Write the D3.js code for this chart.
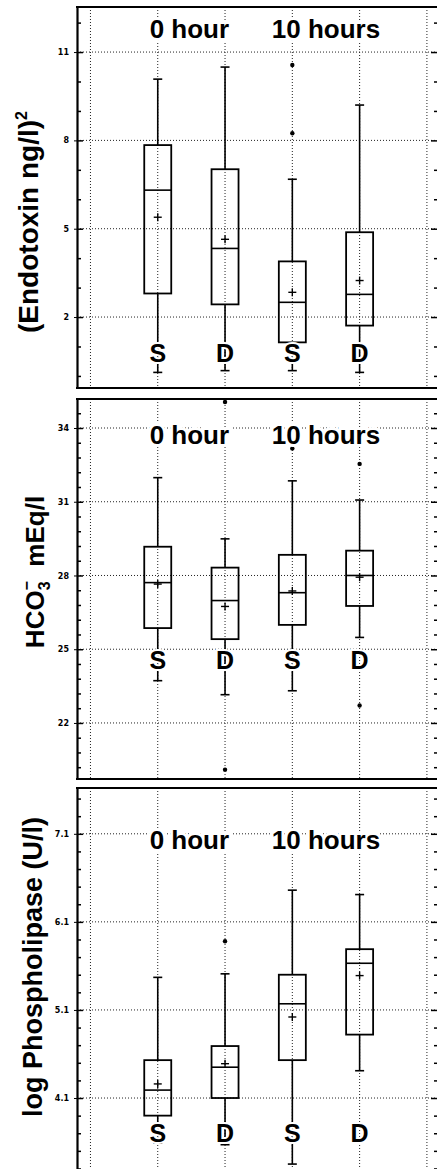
<!DOCTYPE html>
<html>
<head>
<meta charset="utf-8">
<script src="https://cdn.jsdelivr.net/npm/d3@7"></script>
<style>
  body { margin: 0; background: #fff; }
  svg { display: block; font-family: "Liberation Sans", Arial, sans-serif; }
</style>
</head>
<body>
<div class="chart"></div>
<script>
var groups = ["S", "D", "S", "D"];
var times = ["0 hour", "10 hours"];

// box stats per group: [low whisker, q1, median, q3, high whisker]
var endoStats = [
  [0.12, 2.80, 6.31, 7.84, 10.08],
  [0.18, 2.43, 4.33, 7.02, 10.49],
  [0.18, 1.14, 2.50, 3.89, 6.68],
  [0.12, 1.71, 2.77, 4.88, 9.20]
];
var endoMeans = [5.39, 4.64, 2.84, 3.24];
var endoOutliers = [[], [], [8.24, 10.56], []];
var endoTicks = [2, 5, 8, 11];

var hcoStats = [
  [23.72, 25.86, 27.71, 29.17, 31.98],
  [23.15, 25.41, 26.98, 28.32, 29.49],
  [23.31, 25.99, 27.30, 28.84, 31.85],
  [25.48, 26.76, 28.00, 29.01, 31.07]
];
var hcoMeans = [27.65, 26.74, 27.37, 27.93];
var hcoOutliers = [[], [35.06, 20.1], [33.17], [32.54, 22.71]];
var hcoTicks = [22, 25, 28, 31, 34];

var phosStats = [
  [3.59, 3.90, 4.19, 4.53, 5.47],
  [3.57, 4.10, 4.45, 4.69, 5.51],
  [3.35, 4.53, 5.17, 5.50, 6.46],
  [4.41, 4.82, 5.63, 5.79, 6.41]
];
var phosMeans = [4.26, 4.49, 5.02, 5.49];
var phosOutliers = [[], [5.88], [], []];
var phosTicks = [4.1, 5.1, 6.1, 7.1];

var svgWidth = 438;
var svgHeight = 1169;
var axisX = 77, rightX = 437;
var boxW = 27, capW = 9;

// layout of the three stacked panels
var panels = [
  { stats: endoStats, means: endoMeans, outliers: endoOutliers, ticks: endoTicks, minor: 1,
    top: 7, bottom: 388, domain: [-0.41, 12.53], timeY: 38, groupY: 362,
    title: "endo", titleX: 38, titleY: 222, titleSize: 28 },
  { stats: hcoStats, means: hcoMeans, outliers: hcoOutliers, ticks: hcoTicks, minor: 0.6,
    top: 399, bottom: 779, domain: [19.72, 35.18], timeY: 444, groupY: 669,
    title: "hco", titleX: 44, titleY: 572, titleSize: 26 },
  { stats: phosStats, means: phosMeans, outliers: phosOutliers, ticks: phosTicks, minor: 0.2,
    top: 788, bottom: 1172, domain: [3.26, 7.62], timeY: 849, groupY: 1142,
    title: "phos", titleX: 42, titleY: 967, titleSize: 27 }
];

var svg = d3.select(".chart")
  .append("svg")
  .attr("width", svgWidth)
  .attr("height", svgHeight);

var x = d3.scaleLinear().domain([-0.2, 5.15]).range([axisX, rightX]);

panels.forEach(function(p) {
  var y = d3.scaleLinear().domain(p.domain).range([p.bottom, p.top]);
  var g = svg.append("g");

  var t0 = p.ticks[0];
  var minorTicks = d3.range(Math.ceil((p.domain[0] - t0) / p.minor), Math.floor((p.domain[1] - t0) / p.minor) + 1)
    .map(k => +(t0 + k * p.minor).toFixed(2))
    .filter(v => p.ticks.indexOf(v) < 0);

  // dotted grid
  g.selectAll(".hgrid").data(p.ticks).enter().append("line")
    .attr("x1", axisX).attr("x2", rightX)
    .attr("y1", d => y(d)).attr("y2", d => y(d))
    .attr("stroke", "#222").attr("stroke-width", 1).attr("stroke-dasharray", "1,2");
  g.selectAll(".vgrid").data(d3.range(0, 6)).enter().append("line")
    .attr("x1", d => x(d)).attr("x2", d => x(d))
    .attr("y1", p.top).attr("y2", p.bottom)
    .attr("stroke", "#222").attr("stroke-width", 1).attr("stroke-dasharray", "1,2");

  // left axis with labels
  var leftAxis = d3.axisLeft(y).tickValues(p.ticks).tickSize(3).tickSizeOuter(0).tickPadding(5)
    .tickFormat(d => String(d));
  var la = g.append("g").attr("transform", `translate(${axisX},0)`).call(leftAxis);
  la.select(".domain").attr("stroke-width", 2.2);
  la.selectAll("text").attr("font-size", 8).attr("font-weight", "bold")
    .attr("font-family", "'DejaVu Sans', sans-serif");

  g.append("g").attr("transform", `translate(${axisX},0)`)
    .call(d3.axisRight(y).tickValues(p.ticks).tickSize(6).tickFormat(""))
    .call(s => s.select(".domain").remove())
    .selectAll("line").attr("stroke-width", 1.5);
  g.append("g").attr("transform", `translate(${axisX},0)`)
    .call(d3.axisRight(y).tickValues(minorTicks).tickSize(4).tickFormat(""))
    .call(s => s.select(".domain").remove())
    .selectAll("line").attr("stroke-width", 1.5);

  // right side ticks
  g.append("g").attr("transform", `translate(${rightX},0)`)
    .call(d3.axisLeft(y).tickValues(p.ticks).tickSize(6).tickFormat(""))
    .call(s => s.select(".domain").remove())
    .selectAll("line").attr("stroke-width", 1.5);
  g.append("g").attr("transform", `translate(${rightX},0)`)
    .call(d3.axisLeft(y).tickValues(minorTicks).tickSize(3).tickFormat(""))
    .call(s => s.select(".domain").remove())
    .selectAll("line").attr("stroke-width", 1.5);

  // top / bottom frame
  [p.top, p.bottom].forEach(function(yy) {
    g.append("line").attr("x1", axisX - 1).attr("x2", rightX)
      .attr("y1", yy).attr("y2", yy)
      .attr("stroke", "#000").attr("stroke-width", 2.2);
  });

  // boxes
  var bx = g.selectAll(".box").data(p.stats).enter().append("g");
  bx.append("line")
    .attr("x1", (d, i) => x(i + 1)).attr("x2", (d, i) => x(i + 1))
    .attr("y1", d => y(d[0])).attr("y2", d => y(d[1]))
    .attr("stroke", "#000").attr("stroke-width", 1.6);
  bx.append("line")
    .attr("x1", (d, i) => x(i + 1)).attr("x2", (d, i) => x(i + 1))
    .attr("y1", d => y(d[3])).attr("y2", d => y(d[4]))
    .attr("stroke", "#000").attr("stroke-width", 1.6);
  [0, 4].forEach(function(k) {
    bx.append("line")
      .attr("x1", (d, i) => x(i + 1) - capW / 2).attr("x2", (d, i) => x(i + 1) + capW / 2)
      .attr("y1", d => y(d[k])).attr("y2", d => y(d[k]))
      .attr("stroke", "#000").attr("stroke-width", 1.6);
  });
  bx.append("rect")
    .attr("x", (d, i) => x(i + 1) - boxW / 2).attr("width", boxW)
    .attr("y", d => y(d[3])).attr("height", d => y(d[1]) - y(d[3]))
    .attr("fill", "none").attr("stroke", "#000").attr("stroke-width", 1.8);
  bx.append("line")
    .attr("x1", (d, i) => x(i + 1) - boxW / 2).attr("x2", (d, i) => x(i + 1) + boxW / 2)
    .attr("y1", d => y(d[2])).attr("y2", d => y(d[2]))
    .attr("stroke", "#000").attr("stroke-width", 1.6);

  // means as +
  var mg = g.selectAll(".mean").data(p.means).enter().append("g")
    .attr("transform", (d, i) => `translate(${x(i + 1)},${y(d)})`);
  mg.append("line").attr("x1", -4).attr("x2", 4).attr("stroke", "#000").attr("stroke-width", 1.4);
  mg.append("line").attr("y1", -4).attr("y2", 4).attr("stroke", "#000").attr("stroke-width", 1.4);

  // outliers
  p.outliers.forEach(function(list, i) {
    g.selectAll(null).data(list).enter().append("circle")
      .attr("cx", x(i + 1)).attr("cy", d => y(d)).attr("r", 2.2).attr("fill", "#000");
  });

  // S / D labels
  g.selectAll(".grp").data(groups).enter().append("text")
    .attr("x", (d, i) => x(i + 1)).attr("y", p.groupY)
    .attr("text-anchor", "middle").attr("font-size", 25).attr("font-weight", "bold")
    .attr("stroke", "#fff").attr("stroke-width", 4).attr("paint-order", "stroke")
    .text(d => d);

  // time labels
  g.selectAll(".time").data(times).enter().append("text")
    .attr("x", (d, i) => x(1.47 + 2.03 * i)).attr("y", p.timeY)
    .attr("text-anchor", "middle").attr("font-size", 26).attr("font-weight", "bold")
    .attr("stroke", "#fff").attr("stroke-width", 6).attr("paint-order", "stroke")
    .text(d => d);

  // y title
  var tt = svg.append("text")
    .attr("transform", `translate(${p.titleX},${p.titleY}) rotate(-90)`)
    .attr("text-anchor", "middle").attr("font-size", p.titleSize).attr("font-weight", "bold");
  if (p.title === "endo") {
    tt.append("tspan").text("(Endotoxin ng/l)");
    tt.append("tspan").attr("font-size", 16).attr("dy", -11).text("2");
  } else if (p.title === "hco") {
    tt.append("tspan").text("HCO");
    tt.append("tspan").attr("font-size", 16).attr("dy", 6).text("3");
    tt.append("tspan").attr("font-size", 16).attr("dx", -9).attr("dy", -18).text("\u2212");
    tt.append("tspan").attr("dy", 12).text("\u00a0\u00a0mEq/l");
  } else {
    tt.text("log Phospholipase (U/l)");
  }
});
</script>
</body>
</html>
